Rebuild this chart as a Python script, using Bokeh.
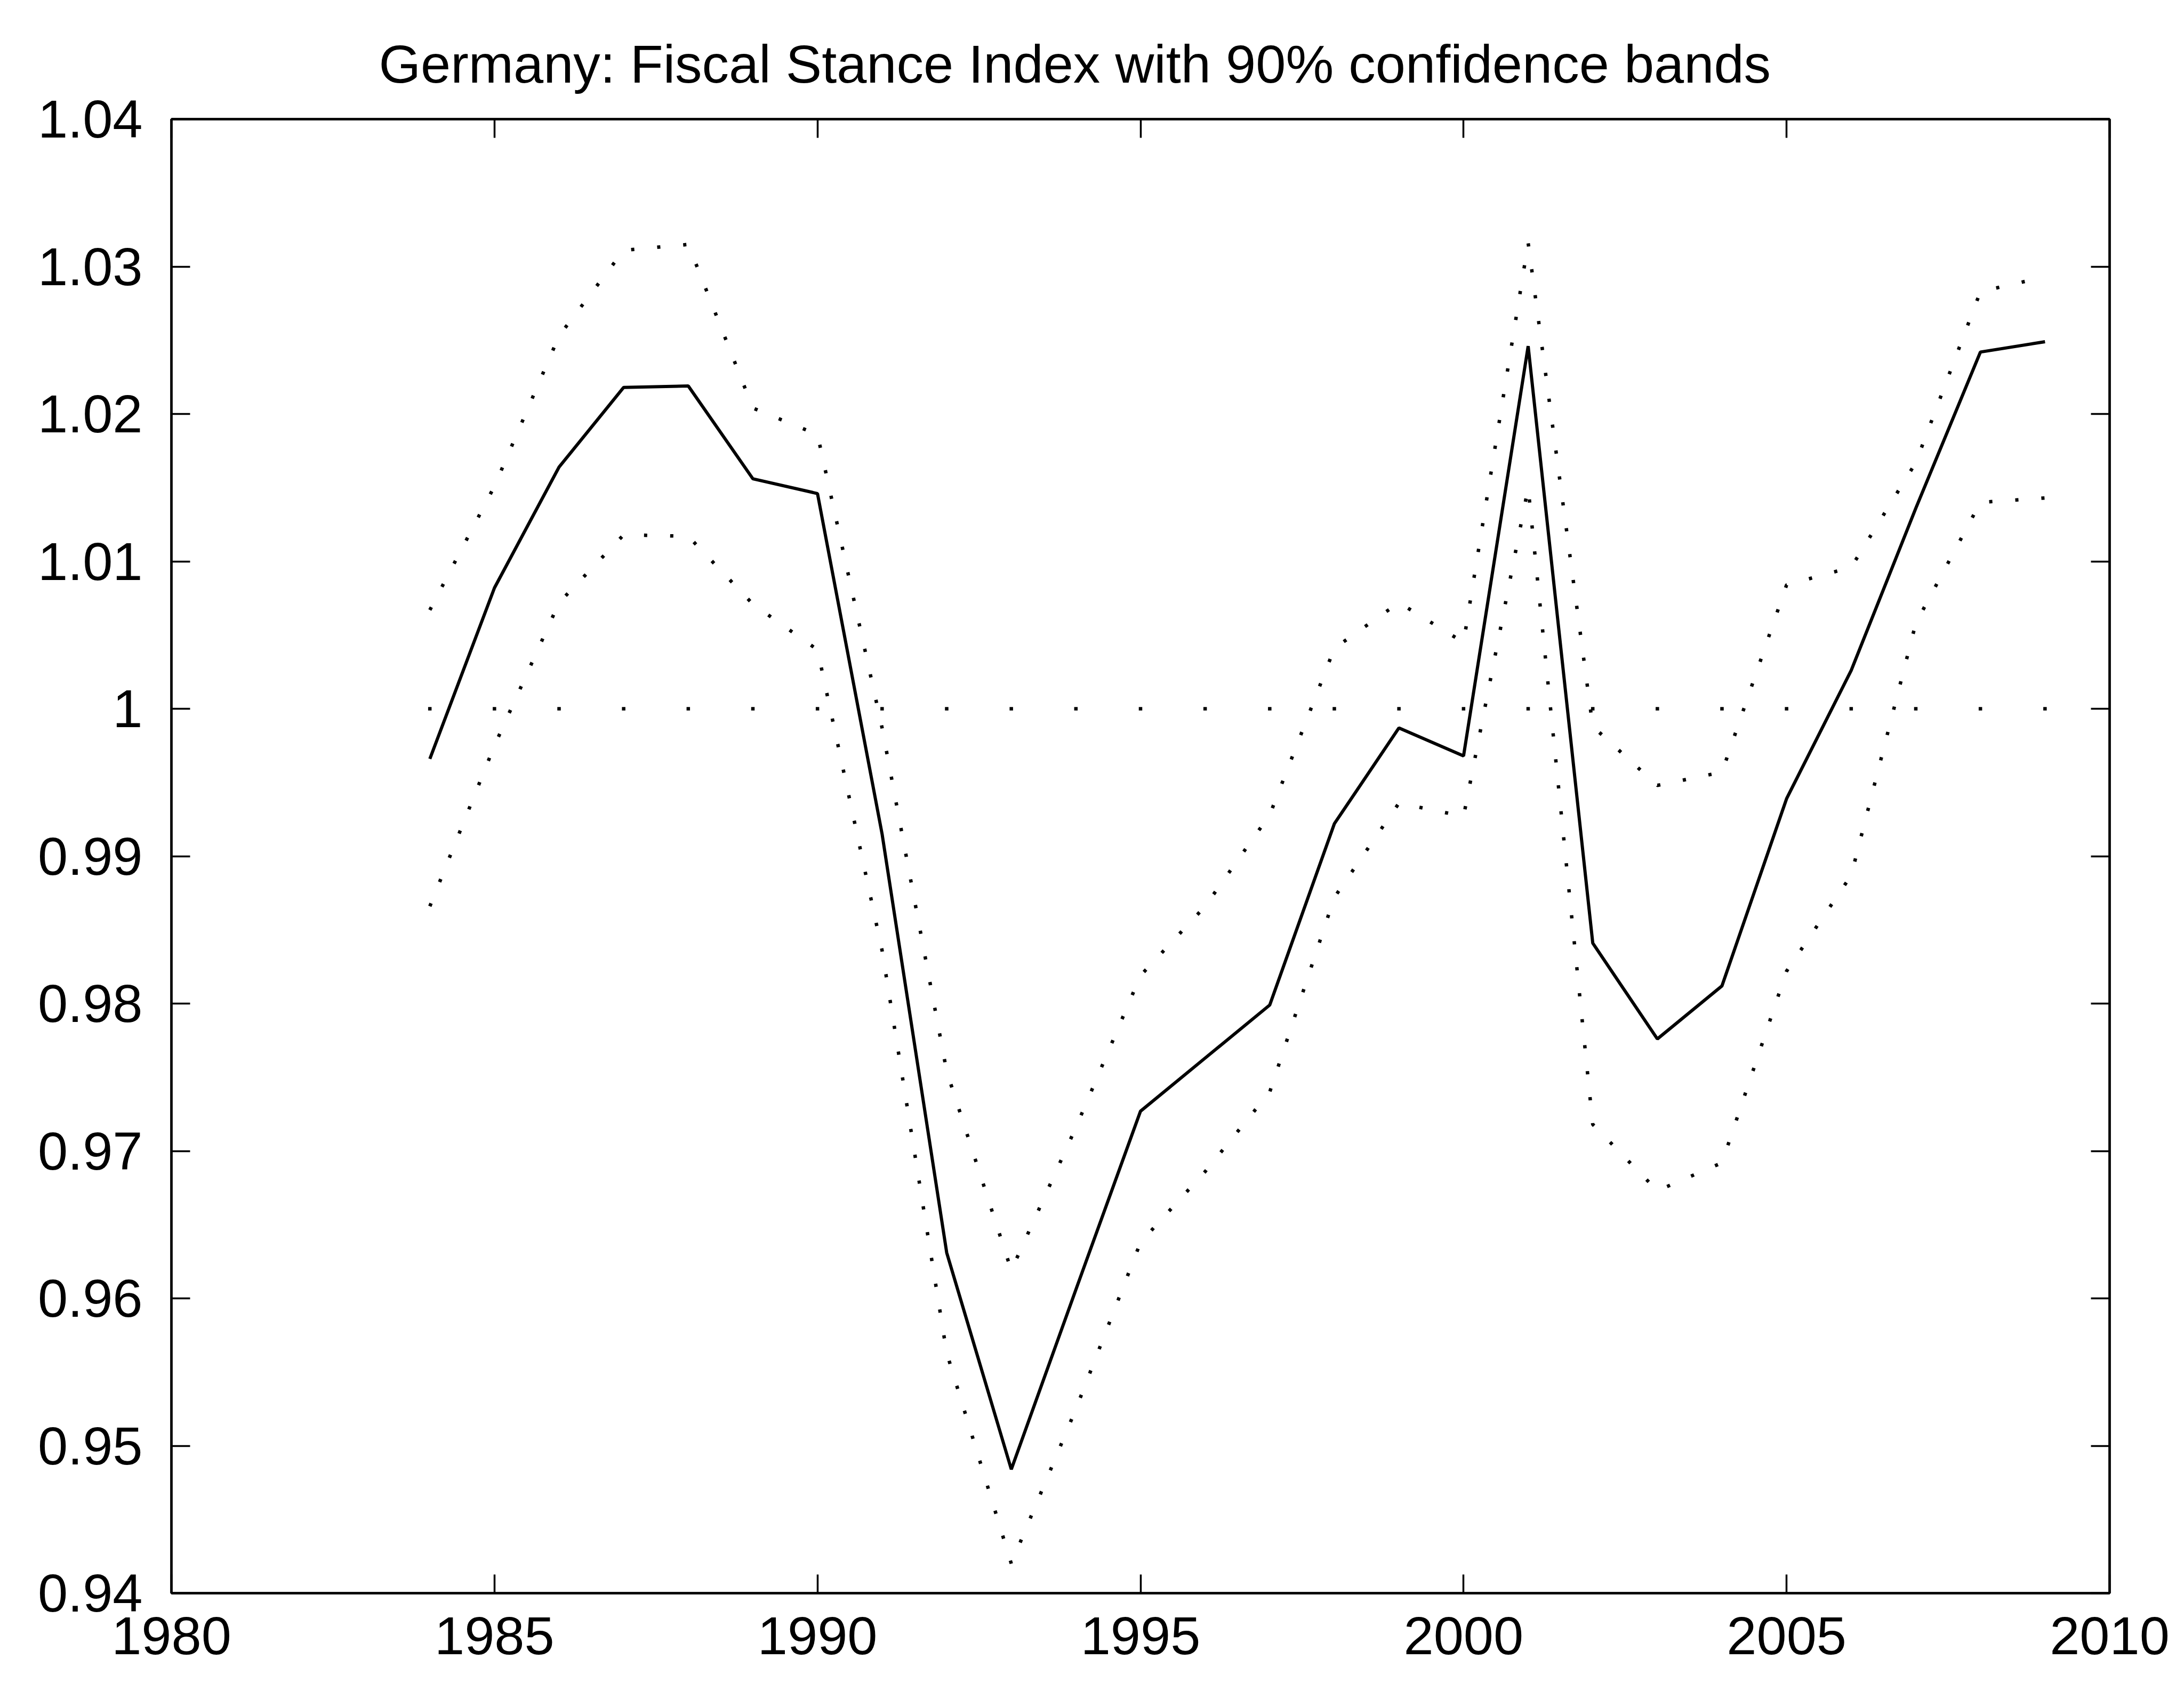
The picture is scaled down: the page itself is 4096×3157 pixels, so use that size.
from bokeh.plotting import figure
from bokeh.models import Range1d, LinearAxis, FixedTicker
from bokeh.embed import file_html
from bokeh.resources import INLINE

# Annual fiscal stance index for Germany with its 90% confidence band
years = [1984, 1985, 1986, 1987, 1988, 1989, 1990, 1991, 1992, 1993, 1994, 1995, 1996,
         1997, 1998, 1999, 2000, 2001, 2002, 2003, 2004, 2005, 2006, 2007, 2008, 2009]

fsi = [0.9966, 1.0082, 1.0164, 1.0218, 1.0219, 1.0156, 1.0146, 0.9915, 0.9631, 0.9484,
       0.9606, 0.9727, 0.9763, 0.9799, 0.9922, 0.9987, 0.9968, 1.0246, 0.9841, 0.9776,
       0.9812, 0.9939, 1.0026, 1.0136, 1.0242, 1.0249]

upper_band = [1.0067, 1.0151, 1.0253, 1.0311, 1.0315, 1.0204, 1.0186, 0.9987, 0.9754, 0.9619,
              0.9716, 0.9819, 0.9866, 0.9928, 1.0041, 1.0072, 1.0045, 1.0316, 0.9988, 0.9948,
              0.9957, 1.0084, 1.0096, 1.0167, 1.0283, 1.0293]

lower_band = [0.9866, 0.9975, 1.0072, 1.0118, 1.0117, 1.0071, 1.0040, 0.9836, 0.9563, 0.9420,
              0.9525, 0.9638, 0.9686, 0.9740, 0.9872, 0.9936, 0.9927, 1.0150, 0.9718, 0.9673,
              0.9692, 0.9822, 0.9887, 1.0058, 1.0140, 1.0143]

neutral_level = 1.0

x_ticks = [1980, 1985, 1990, 1995, 2000, 2005, 2010]
x_tick_labels = ["1980", "1985", "1990", "1995", "2000", "2005", "2010"]
y_ticks = [0.94, 0.95, 0.96, 0.97, 0.98, 0.99, 1.0, 1.01, 1.02, 1.03, 1.04]
y_tick_labels = ["0.94", "0.95", "0.96", "0.97", "0.98", "0.99", "1", "1.01", "1.02", "1.03", "1.04"]

title_text = "Germany: Fiscal Stance Index with 90% confidence bands"

FONT = "Liberation Sans"
FONT_SIZE = "101px"

p = figure(
    width=4096, height=3157,
    output_backend="svg", toolbar_location=None,
    x_range=Range1d(1980, 2010), y_range=Range1d(0.94, 1.04),
    min_border_left=321, min_border_right=140,
    min_border_top=223, min_border_bottom=169,
)
p.background_fill_color = "white"
p.border_fill_color = "white"
p.outline_line_color = "black"
p.outline_line_width = 4
p.xgrid.visible = False
p.ygrid.visible = False

def style_axis(ax, ticks, labels, show_labels, standoff):
    ax.ticker = FixedTicker(ticks=ticks)
    if show_labels:
        ax.major_label_overrides = dict(zip(ticks, labels))
    else:
        ax.major_label_overrides = {t: "" for t in ticks}
    ax.major_label_text_font = FONT
    ax.major_label_text_font_size = FONT_SIZE
    ax.major_label_text_color = "black"
    ax.major_label_standoff = standoff
    ax.major_tick_in = 35
    ax.major_tick_out = 0
    ax.minor_tick_in = 0
    ax.minor_tick_out = 0
    ax.major_tick_line_width = 3.5
    ax.major_tick_line_color = "black"
    ax.axis_line_width = 4.5
    ax.axis_line_color = "black"

style_axis(p.xaxis[0], x_ticks, x_tick_labels, True, 45)
style_axis(p.yaxis[0], y_ticks, y_tick_labels, True, 54)

top_axis = LinearAxis()
style_axis(top_axis, x_ticks, x_tick_labels, False, 0)
p.add_layout(top_axis, "above")

right_axis = LinearAxis()
style_axis(right_axis, y_ticks, y_tick_labels, False, 0)
p.add_layout(right_axis, "right")

# Confidence band (dotted) and neutral level markers
p.line(years, upper_band, line_color="black", line_width=6.5, line_dash="6 43")
p.line(years, lower_band, line_color="black", line_width=6.5, line_dash="6 43")
p.scatter(years, [neutral_level for _ in years], marker="square", size=6.5,
          fill_color="black", line_color=None)

# Point estimate
p.line(years, fsi, line_color="black", line_width=6)

p.title.text = title_text
p.title.text_font = FONT
p.title.text_font_size = FONT_SIZE
p.title.text_font_style = "normal"
p.title.text_color = "black"
p.title.align = "left"
p.title.offset = 389
p.title.standoff = 96

open("out.html", "w").write(file_html(p, INLINE))
